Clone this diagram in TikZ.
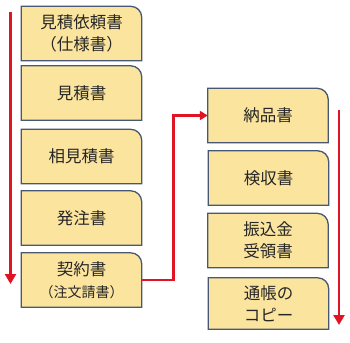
\documentclass[tikz,border=0pt]{standalone}
\usepackage{fontspec}
\newfontfamily\jp{Noto Sans CJK JP}
\usetikzlibrary{arrows.meta,backgrounds}
\definecolor{docfill}{RGB}{250,228,158}
\definecolor{docline}{RGB}{72,88,115}
\definecolor{flowred}{RGB}{225,20,35}
\tikzset{
  doc/.style={minimum width=120pt, minimum height=54pt, inner sep=0pt, align=center,
    text=black!85, font=\jp\fontsize{16.5}{22}\selectfont},
  docedge/.style={draw=docline, fill=docfill, line width=1.3pt},
  flow/.style={draw=flowred, line width=2.8pt, -{Triangle[width=11pt,length=10pt]}},
}
% box with one rounded corner (top right)
\newcommand{\docoutline}[1]{%
  \draw[docedge] (#1.south west) -- (#1.north west) -- ([xshift=-11pt]#1.north east)
    arc[start angle=90, end angle=0, radius=11pt] -- (#1.south east) -- cycle;}
\begin{document}
\begin{tikzpicture}[x=1pt,y=-1pt]
  \useasboundingbox (0,0) rectangle (350,342);

  % ordering side
  \node[doc] (reqdoc) at (81.5,33.5) {見積依頼書\\（仕様書）};
  \node[doc] (estdoc) at (81.5,93) {見積書};
  \node[doc] (cmpdoc) at (81.5,156.5) {相見積書};
  \node[doc] (orderdoc) at (81.5,218) {発注書};
  \node[doc] (contractdoc) at (81.5,280) {契約書\\{\fontsize{14}{20}\selectfont（注文請書）}};

  % delivery side
  \node[doc] (delivdoc) at (268,115.5) {納品書};
  \node[doc] (inspdoc) at (268.5,178) {検収書};
  \node[doc] (paydoc) at (268,240.5) {振込金\\受領書};
  \node[doc, minimum height=51pt] (bookdoc) at (268.5,303.5) {通帳の\\コピー};

  \begin{scope}[on background layer]
    \foreach \d in {reqdoc,estdoc,cmpdoc,orderdoc,contractdoc,delivdoc,inspdoc,paydoc,bookdoc}
      {\docoutline{\d}}
  \end{scope}

  % flow arrows
  \coordinate (lefttop) at (10.5,12);
  \coordinate (leftend) at (10.5,284);
  \draw[flow] (lefttop) -- (leftend);
  \coordinate (righttop) at (339,110);
  \coordinate (rightend) at (339,325);
  \draw[flow] (righttop) -- (rightend);
  \draw[flow, line width=2.5pt, -{Triangle[width=9pt,length=8pt]}]
    (contractdoc.east) -- ++(32,0) |- (delivdoc.west);
\end{tikzpicture}
\end{document}
